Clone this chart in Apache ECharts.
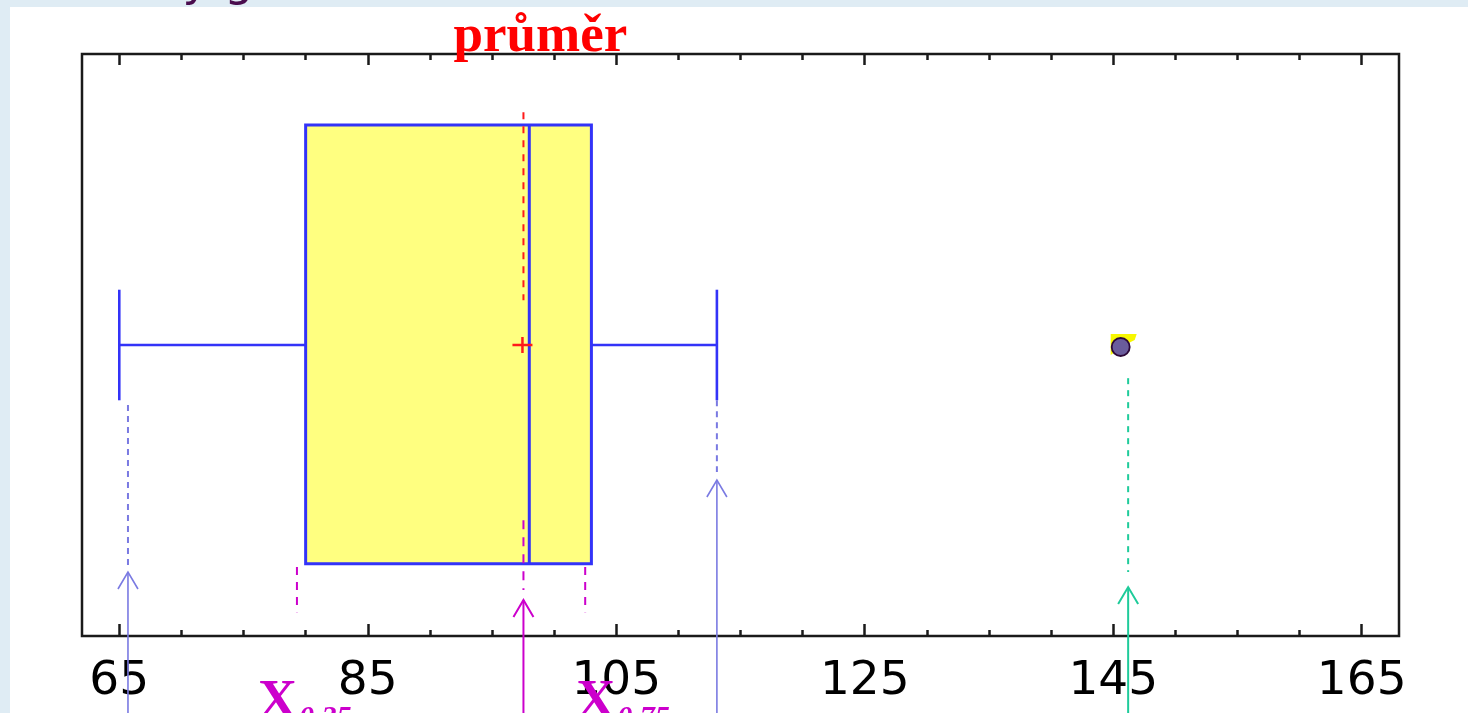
<!DOCTYPE html>
<html>
<head>
<meta charset="utf-8">
<script src="https://cdn.jsdelivr.net/npm/echarts@6/dist/echarts.min.js"></script>
<style>
  html, body { margin: 0; padding: 0; background: #dfecf4; }
  #chart { width: 1468px; height: 713px; }
</style>
</head>
<body>
<div id="chart"></div>
<script>
// ---- values ----
const titleText = 'Krabicový graf';
const meanLabel = 'průměr';
const majorTicks = [65, 85, 105, 125, 145, 165];
const minorTicks = [70, 75, 80, 90, 95, 100, 110, 115, 120, 130, 135, 140, 150, 155, 160];
const boxStats = [65, 80, 98, 103, 113.1];      // min, Q1, median, Q3, max (upper whisker)
const meanValues = [97.45];
const outlierValues = [145.6];
const quantileGuideValues = [79.3, 102.5];
const quantileLabels = ['0.25', '0.75'];
const whiskerGuideValues = [65.7, 113.1];
const outlierGuideValues = [146.2];

// ---- layout (vertical positions in hidden y-axis units, 0 = bottom, 1 = top) ----
const X_MIN = 62, X_MAX = 168;
const CENTER = 0.5;
const BOX_TOP = 0.878, BOX_BOTTOM = 0.124;
const CAP_HALF = 0.095;
const ARROW_START = -0.15;
const MEAN_RED_GUIDE = [0.900, 0.577];
const MEAN_MAG_GUIDE = [0.199, 0.079];
const MEAN_ARROW_TIP = 0.062;
const QUANT_GUIDE = [0.1186, 0.041];
const QUANT_LABEL_DX = [-39, -9];
const WHISKER_GUIDE = [[0.397, 0.117, 0.110], [0.405, 0.282, 0.268]]; // top, bottom, arrow tip
const OUTLIER_GUIDE = [0.443, 0.110, 0.084];

const BLUE = '#3333f8';
const GUIDE_BLUE = '#7a7ae2';
const MAGENTA = '#cc00cc';
const TEAL = '#1ecb9a';
const RED = '#ff1a1a';
const TITLE_FONT = '46px "DejaVu Sans"';

function dashed(x, y1, y2, color, width, dash) {
  return { type: 'line', shape: { x1: x, y1: y1, x2: x, y2: y2 },
           style: { stroke: color, lineWidth: width, lineDash: dash } };
}
function arrow(x, tipY, startY, color, width) {
  return [
    { type: 'line', shape: { x1: x, y1: startY, x2: x, y2: tipY },
      style: { stroke: color, lineWidth: width } },
    { type: 'polyline', shape: { points: [[x - 10, tipY + 17], [x, tipY], [x + 10, tipY + 17]] },
      style: { stroke: color, lineWidth: width, fill: null } }
  ];
}

const chart = echarts.init(document.getElementById('chart'), null, { renderer: 'canvas' });

// place the title so that the "ý" sits where intended
const measure = document.createElement('canvas').getContext('2d');
measure.font = TITLE_FONT;
const titleX = 196 - (measure.measureText('Krabicov').width + measure.measureText('ý').width / 2);

function xAxisDef(position, ticks, len, withLabels) {
  return {
    type: 'value', gridIndex: 0, position: position, min: X_MIN, max: X_MAX,
    axisLine: { show: false },
    splitLine: { show: false },
    axisTick: { show: true, inside: true, length: len, customValues: ticks,
                lineStyle: { color: '#1a1a1a', width: 2.5 } },
    axisLabel: withLabels ? {
      show: true, customValues: ticks, margin: 22, color: '#000',
      fontFamily: '"DejaVu Sans", sans-serif', fontSize: 47
    } : { show: false }
  };
}

const option = {
  backgroundColor: '#dfecf4',
  animation: false,
  graphic: [
    { type: 'text', z: -20, silent: true,
      style: { text: titleText, x: titleX, y: -17, font: TITLE_FONT,
               fill: '#4a0d4e', verticalAlign: 'middle' } },
    { type: 'rect', z: -10, silent: true,
      shape: { x: 10, y: 7, width: 1458, height: 706 }, style: { fill: '#ffffff' } }
  ],
  grid: { left: 82, top: 54, width: 1317, height: 582, show: true,
          borderColor: '#1a1a1a', borderWidth: 2.5, backgroundColor: 'transparent' },
  xAxis: [
    xAxisDef('bottom', majorTicks, 12, true),
    xAxisDef('bottom', minorTicks, 6, false),
    xAxisDef('top', majorTicks, 11, false),
    xAxisDef('top', minorTicks, 6, false)
  ],
  yAxis: { type: 'value', min: 0, max: 1, show: false },
  series: [
    {
      // box and whiskers
      type: 'custom', name: 'box', xAxisIndex: 0,
      dimensions: ['min', 'q1', 'median', 'q3', 'max'],
      data: [boxStats],
      renderItem: function (params, api) {
        const c = (v, y) => api.coord([v, y]);
        const lo = c(api.value(0), CENTER), q1 = c(api.value(1), BOX_TOP),
              md = c(api.value(2), BOX_TOP), q3 = c(api.value(3), BOX_BOTTOM),
              hi = c(api.value(4), CENTER);
        const capT = c(0, CENTER + CAP_HALF)[1], capB = c(0, CENTER - CAP_HALF)[1];
        const mid = lo[1];
        const ws = { stroke: BLUE, lineWidth: 2.6 };
        return { type: 'group', children: [
          { type: 'line', shape: { x1: lo[0], y1: mid, x2: q1[0], y2: mid }, style: ws },
          { type: 'line', shape: { x1: q3[0], y1: mid, x2: hi[0], y2: mid }, style: ws },
          { type: 'line', shape: { x1: lo[0], y1: capT, x2: lo[0], y2: capB }, style: ws },
          { type: 'line', shape: { x1: hi[0], y1: capT, x2: hi[0], y2: capB }, style: ws },
          { type: 'rect', shape: { x: q1[0], y: q1[1], width: q3[0] - q1[0], height: q3[1] - q1[1] },
            style: { fill: '#ffff80', stroke: BLUE, lineWidth: 3 } },
          { type: 'line', shape: { x1: md[0], y1: q1[1], x2: md[0], y2: q3[1] },
            style: { stroke: BLUE, lineWidth: 3 } }
        ] };
      }
    },
    {
      // mean marker with its guides and label
      type: 'custom', name: 'mean', xAxisIndex: 0,
      data: meanValues.map(v => [v, CENTER]),
      renderItem: function (params, api) {
        const v = api.value(0);
        const p = api.coord([v, CENTER]);
        const y = t => api.coord([v, t])[1];
        const x = p[0];
        return { type: 'group', children: [
          dashed(x + 1, y(MEAN_RED_GUIDE[0]), y(MEAN_RED_GUIDE[1]), RED, 2, [7, 7]),
          dashed(x + 1, y(MEAN_MAG_GUIDE[0]), y(MEAN_MAG_GUIDE[1]), MAGENTA, 2, [9, 8]),
          ...arrow(x + 1, y(MEAN_ARROW_TIP), y(ARROW_START), MAGENTA, 2),
          { type: 'line', shape: { x1: x - 10, y1: p[1], x2: x + 10, y2: p[1] },
            style: { stroke: RED, lineWidth: 2.5 } },
          { type: 'line', shape: { x1: x, y1: p[1] - 8, x2: x, y2: p[1] + 8 },
            style: { stroke: RED, lineWidth: 2.5 } },
          { type: 'text', style: { text: meanLabel, x: x + 18, y: 37.5, align: 'center',
              verticalAlign: 'middle', fill: '#ff0000',
              font: 'bold 53px "Liberation Serif", "Times New Roman", serif' } }
        ] };
      }
    },
    {
      // quartile guides with their labels
      type: 'custom', name: 'quantiles', xAxisIndex: 0,
      data: quantileGuideValues.map(v => [v, CENTER]),
      renderItem: function (params, api) {
        const v = api.value(0);
        const x = api.coord([v, CENTER])[0];
        const y = t => api.coord([v, t])[1];
        const lx = x + QUANT_LABEL_DX[params.dataIndex];
        return { type: 'group', children: [
          dashed(x, y(QUANT_GUIDE[0]), y(QUANT_GUIDE[1]), MAGENTA, 2, [8, 7]),
          { type: 'text', style: { text: 'X', x: lx, y: 703, verticalAlign: 'middle',
              fill: MAGENTA, font: 'bold 54px "Liberation Serif", "Times New Roman", serif' } },
          { type: 'text', style: { text: quantileLabels[params.dataIndex], x: lx + 41, y: 718,
              verticalAlign: 'middle', fill: MAGENTA,
              font: 'italic bold 30px "Liberation Serif", "Times New Roman", serif' } }
        ] };
      }
    },
    {
      // whisker guides
      type: 'custom', name: 'whiskerGuides', xAxisIndex: 0,
      data: whiskerGuideValues.map(v => [v, CENTER]),
      renderItem: function (params, api) {
        const v = api.value(0);
        const x = api.coord([v, CENTER])[0];
        const y = t => api.coord([v, t])[1];
        const g = WHISKER_GUIDE[params.dataIndex];
        return { type: 'group', children: [
          dashed(x, y(g[0]), y(g[1]), GUIDE_BLUE, 2, [6, 5]),
          ...arrow(x, y(g[2]), y(ARROW_START), GUIDE_BLUE, 1.6)
        ] };
      }
    },
    {
      // outlier guides
      type: 'custom', name: 'outlierGuides', xAxisIndex: 0,
      data: outlierGuideValues.map(v => [v, CENTER]),
      renderItem: function (params, api) {
        const v = api.value(0);
        const x = api.coord([v, CENTER])[0];
        const y = t => api.coord([v, t])[1];
        return { type: 'group', children: [
          dashed(x, y(OUTLIER_GUIDE[0]), y(OUTLIER_GUIDE[1]), TEAL, 2, [6, 6]),
          ...arrow(x, y(OUTLIER_GUIDE[2]), y(ARROW_START), TEAL, 2)
        ] };
      }
    },
    {
      // outlying points
      type: 'custom', name: 'outliers', xAxisIndex: 0,
      data: outlierValues.map(v => [v, CENTER]),
      renderItem: function (params, api) {
        const p = api.coord([api.value(0), CENTER]);
        const cx = p[0], cy = p[1] + 2;
        return { type: 'group', children: [
          { type: 'polygon', shape: { points: [[cx - 10, cy - 13], [cx + 16, cy - 13], [cx + 14, cy - 7],
              [cx + 4, cy - 2], [cx - 10, cy + 8]] }, style: { fill: '#f7f700' } },
          { type: 'circle', shape: { cx: cx, cy: cy, r: 9 },
            style: { fill: '#6a5c9c', stroke: '#2c0838', lineWidth: 1.8 } }
        ] };
      }
    }
  ]
};

chart.setOption(option);
</script>
</body>
</html>
